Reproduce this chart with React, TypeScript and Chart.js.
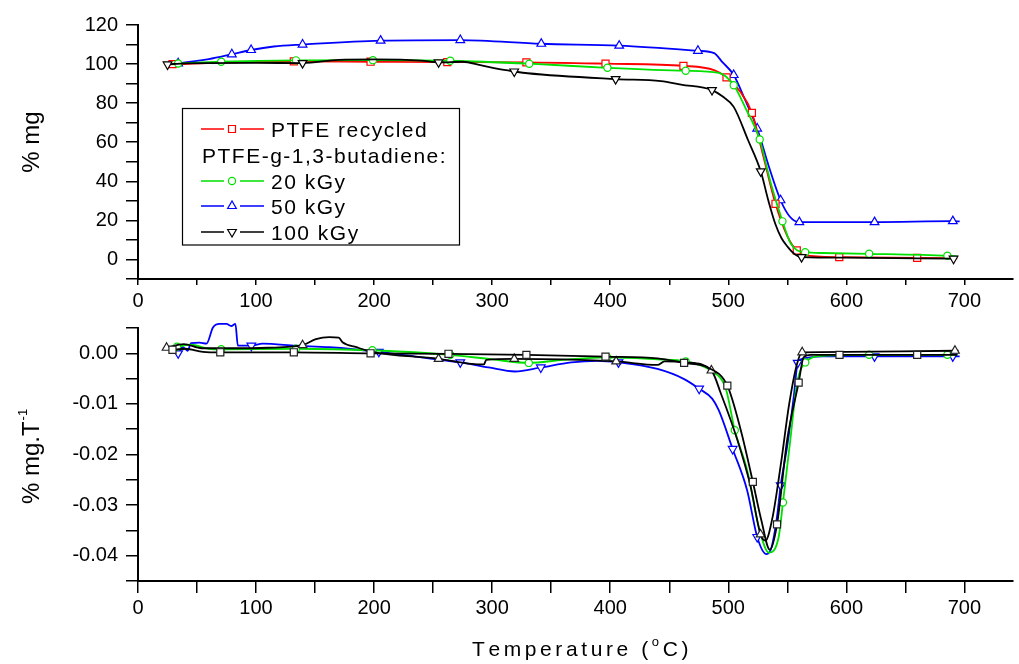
import React, { useEffect, useRef } from 'react';
import { Chart, registerables } from 'chart.js';

Chart.register(...registerables);

// ---------- TG (% mass) curves: [temperature °C, % mg] ----------
const tgRecycled: [number, number][] = [
  [27, 100.0], [29.2, 100.0], [70, 100.8], [132, 101.4], [197, 101.2], [262, 101.0],
  [329, 100.9], [396, 100.2], [462, 99.1], [488, 96.9], [498.5, 93.2], [510, 86.0],
  [520, 75.0], [530, 52.0], [540, 28.5], [550, 12.0], [558, 4.6], [565, 2.2],
  [594, 1.2], [660, 0.8], [694, 0.6],
];
const tgRecycledMarks = [29.2, 132, 197, 262, 329, 396, 462, 498.5, 520, 540, 558, 594, 660];

const tg20: [number, number][] = [
  [30, 100.2], [34, 100.3], [70.5, 101.2], [133.8, 101.9], [199, 102.0], [264.5, 101.7],
  [331.4, 100.2], [397.6, 98.1], [463.9, 96.6], [492, 95.5], [504.6, 89.2], [515, 77.0],
  [526.6, 61.4], [536, 39.0], [545.9, 19.5], [553, 8.0], [565.1, 3.7], [580, 3.3],
  [619.3, 2.9], [685.6, 1.9], [694, 1.6],
];
const tg20Marks = [34, 70.5, 133.8, 199, 264.5, 331.4, 397.6, 463.9, 504.6, 526.6, 545.9, 565.1, 619.3, 685.6];

const tg50: [number, number][] = [
  [30, 100.2], [34, 100.4], [60, 102.5], [79.5, 105.0], [95.8, 107.2], [115, 109.0],
  [139.4, 110.0], [205.5, 112.0], [273, 112.3], [341.6, 110.4], [407.6, 109.4],
  [474.3, 106.8], [488, 105.6], [495, 101.0], [504.6, 94.4], [514, 82.0], [524.5, 67.0],
  [534.5, 47.3], [544.3, 30.3], [552, 22.0], [560.2, 19.1], [623.9, 19.1], [690.2, 19.6],
  [696, 19.5],
];
const tg50Marks = [34, 79.5, 95.8, 139.4, 205.5, 273, 341.6, 407.6, 474.3, 504.6, 524.5, 544.3, 560.2, 623.9, 690.2];

const tg100: [number, number][] = [
  [25, 99.8], [40, 100.4], [100, 100.6], [139.4, 100.5], [170, 102.2], [200, 102.4],
  [240, 101.8], [254.6, 100.9], [275, 101.2], [290, 99.5], [305, 97.5], [318.7, 96.2],
  [330, 95.3], [404.6, 92.3], [443, 91.3], [460, 89.5], [486.2, 86.7], [495, 83.5],
  [504.6, 78.1], [516.8, 61.0], [527.5, 45.1], [534, 30.0], [539.8, 18.3], [545, 11.0],
  [550.5, 6.3], [556, 2.8], [562.1, 1.2], [600, 0.9], [690.8, 0.4],
];
const tg100Marks = [25, 139.4, 254.6, 318.7, 404.6, 486.2, 527.5, 562.1, 690.8];

// ---------- DTG curves: [temperature °C, % mg.T^-1] ----------
const dtgSquare: [number, number][] = [
  [27, 0.0008], [29.2, 0.0007], [40, 0.0009], [55, 0.0003], [69.7, 0.0002], [132, 0.0002],
  [197, 0.0], [263, -0.0001], [329, -0.0003], [396, -0.00065], [440, -0.001],
  [462.6, -0.0019], [482.6, -0.0028], [499.2, -0.0064], [510.6, -0.0152], [520.8, -0.0254],
  [528, -0.033], [535.2, -0.0388], [541.3, -0.0338], [549.8, -0.0172], [559.6, -0.0058],
  [563.8, -0.0008], [570, -0.0003], [594.2, -0.0003], [660, -0.0003], [694, -0.0003],
];
const dtgSquareMarks = [29.2, 69.7, 132, 197, 263, 329, 396, 462.6, 499.2, 520.8, 541.3, 559.6, 594.2, 660];

const dtgTriUp: [number, number][] = [
  [24.2, 0.0011], [38.8, 0.0018], [54, 0.001], [80, 0.001], [110, 0.0011], [139.4, 0.0016],
  [150.7, 0.0028], [162, 0.0032], [170, 0.0031], [173.2, 0.0022], [185, 0.0012],
  [198, 0.0003], [254.6, -0.0011], [282.7, -0.0021], [293, -0.0022], [295, -0.0013],
  [318.7, -0.0011], [360, -0.0012], [405, -0.0016], [440, -0.0023], [446, -0.0016],
  [465, -0.0018], [485.7, -0.0034], [493.8, -0.008], [507.8, -0.0172], [519, -0.0264],
  [527.3, -0.0358], [531.5, -0.037], [537.6, -0.0323], [544.6, -0.0218], [551.6, -0.01],
  [558.2, -0.0021], [562.6, 0.0002], [600, 0.0003], [692, 0.0005], [695, 0.0005],
];
const dtgTriUpMarks = [24.2, 139.4, 254.6, 318.7, 405, 485.7, 527.3, 562.6, 692];

const dtgCircle: [number, number][] = [
  [33, 0.0013], [45, 0.0017], [60, 0.0009], [70.5, 0.0008], [133.8, 0.0009], [198.5, 0.0006],
  [264.5, -0.0003], [300, -0.0012], [331, -0.0019], [360, -0.0013], [397.6, -0.0008],
  [440, -0.0012], [463.9, -0.0016], [485, -0.0034], [497.9, -0.007], [505.5, -0.0152],
  [516, -0.0231], [525.8, -0.0343], [534.3, -0.0394], [542.7, -0.0363], [546.3, -0.0295],
  [552.5, -0.0172], [558.2, -0.006], [565.2, -0.0018], [580, -0.0005], [619.3, -0.0003],
  [685.6, -0.0003], [694, -0.0003],
];
const dtgCircleMarks = [33, 70.5, 133.8, 198.5, 264.5, 331, 397.6, 463.9, 505.5, 546.3, 565.2, 619.3, 685.6];

const dtgTriDown: [number, number][] = [
  [34, 0.0], [38, 0.0012], [42, 0.0005], [45, 0.002], [52, 0.0021], [58, 0.0019],
  [63.5, 0.0051], [69, 0.0058], [75, 0.0058], [79, 0.0054], [82.5, 0.0058], [84.6, 0.0015],
  [96, 0.0015], [105.6, 0.0019], [133.8, 0.0015], [162, 0.0012], [204, 0.0003],
  [240, -0.0008], [273, -0.0018], [296.8, -0.0028], [319.3, -0.0036], [341.2, -0.0028],
  [367, -0.0018], [389.5, -0.0015], [407, -0.0018], [440, -0.0031], [462.6, -0.0051],
  [475.3, -0.007], [486.5, -0.009], [492, -0.0113], [503.7, -0.0189], [516, -0.0271],
  [524.5, -0.0363], [532.4, -0.0397], [536.7, -0.0383], [541.3, -0.0323], [544.4, -0.0261],
  [549.8, -0.0185], [555.4, -0.0087], [558.8, -0.0019], [562.6, -0.0011], [580, -0.0006],
  [623.9, -0.0006], [690.2, -0.0006], [696, -0.0006],
];
const dtgTriDownMarks = [34, 96, 204, 273, 341.2, 407, 475.3, 503.7, 524.5, 544.4, 558.8, 623.9, 690.2];

// ---------- labels ----------
const legendTitle = 'PTFE-g-1,3-butadiene:';
const legendLabels = ['PTFE recycled', '20 kGy', '50 kGy', '100 kGy'];
const topYTitle = '% mg';
const bottomYTitle = '% mg.T';
const bottomYTitleSup = '-1';
const xTitleA = 'Temperature (';
const xTitleSup = 'o';
const xTitleB = 'C)';

const FONT = "'Liberation Sans', Arial, Helvetica, sans-serif";
const RED = '#ff0000';
const GREEN = '#00e000';
const BLUE = '#0000ff';
const BLACK = '#000000';

type MStyle = 'rect' | 'circle' | 'triangle' | 'triangleDown';

function drawMarker(ctx: CanvasRenderingContext2D, style: MStyle, x: number, y: number, color: string) {
  ctx.save();
  ctx.beginPath();
  if (style === 'rect') {
    ctx.rect(x - 3.5, y - 3.5, 7, 7);
  } else if (style === 'circle') {
    ctx.arc(x, y, 3.6, 0, Math.PI * 2);
  } else {
    const r = 5;
    const s = style === 'triangle' ? 1 : -1;
    ctx.moveTo(x, y - s * r);
    ctx.lineTo(x - r * 0.866, y + s * r / 2);
    ctx.lineTo(x + r * 0.866, y + s * r / 2);
    ctx.closePath();
  }
  ctx.fillStyle = '#fff';
  ctx.fill();
  ctx.strokeStyle = color;
  ctx.lineWidth = 1.2;
  ctx.stroke();
  ctx.restore();
}

function spacedWidth(ctx: CanvasRenderingContext2D, text: string, sp: number) {
  let w = 0;
  for (const ch of text) w += ctx.measureText(ch).width + sp;
  return w;
}
function drawSpaced(ctx: CanvasRenderingContext2D, text: string, x: number, y: number, sp: number) {
  for (const ch of text) {
    ctx.fillText(ch, x, y);
    x += ctx.measureText(ch).width + sp;
  }
  return x;
}

function makeDataset(data: [number, number][], marks: number[], color: string, markColor: string, style: MStyle) {
  const radius = style === 'rect' ? 5 : style === 'circle' ? 3.6 : 5;
  return {
    data: data.map(([x, y]) => ({ x, y })),
    borderColor: color,
    borderWidth: 1.8,
    pointStyle: style === 'triangleDown' ? 'triangle' : style,
    pointRotation: style === 'triangleDown' ? 180 : 0,
    pointRadius: (c: any) => (c.raw && marks.includes(c.raw.x) ? radius : 0),
    pointHoverRadius: 0,
    pointBorderColor: markColor,
    pointBackgroundColor: '#ffffff',
    pointBorderWidth: 1.2,
    cubicInterpolationMode: 'monotone',
    fill: false,
    clip: false,
  };
}

function xScale(tickLen: number, pad: number, height: number) {
  return {
    type: 'linear',
    min: 0,
    max: 741,
    ticks: {
      stepSize: 50,
      includeBounds: false,
      autoSkip: false,
      maxRotation: 0,
      color: '#000',
      padding: pad,
      font: { family: FONT, size: 20 },
      callback: (v: number) => (Math.round(v) % 100 === 0 ? String(Math.round(v)) : ''),
    },
    grid: { drawOnChartArea: false, drawTicks: true, tickLength: tickLen, color: '#000', lineWidth: 1.5 },
    border: { display: true, color: '#000', width: 2 },
    afterFit: (s: any) => { s.height = height; },
  };
}

function yScale(min: number, max: number, step: number, cb: (v: number) => string) {
  return {
    type: 'linear',
    min,
    max,
    ticks: {
      stepSize: step,
      autoSkip: false,
      color: '#000',
      padding: 8,
      font: { family: FONT, size: 20 },
      callback: cb,
    },
    grid: { drawOnChartArea: false, drawTicks: true, tickLength: 12, color: '#000', lineWidth: 1.5 },
    border: { display: true, color: '#000', width: 2 },
    afterFit: (s: any) => { s.width = 138; },
  };
}

const topDecor = {
  id: 'topDecor',
  afterDraw(chart: any) {
    const ctx: CanvasRenderingContext2D = chart.ctx;
    ctx.save();
    // legend box
    ctx.strokeStyle = '#000';
    ctx.lineWidth = 1.2;
    ctx.strokeRect(182.5, 108.5, 277, 136.5);
    ctx.font = `21px ${FONT}`;
    ctx.fillStyle = '#000';
    ctx.textBaseline = 'alphabetic';
    const rows: { label: string; color?: string; style?: MStyle }[] = [
      { label: legendLabels[0], color: RED, style: 'rect' },
      { label: legendTitle },
      { label: legendLabels[1], color: GREEN, style: 'circle' },
      { label: legendLabels[2], color: BLUE, style: 'triangle' },
      { label: legendLabels[3], color: BLACK, style: 'triangleDown' },
    ];
    const rowY = [129, 155, 181, 206, 232];
    rows.forEach((r, i) => {
      const y = rowY[i];
      if (r.color && r.style) {
        ctx.strokeStyle = r.color;
        ctx.lineWidth = 1.6;
        ctx.beginPath();
        ctx.moveTo(201, y); ctx.lineTo(224, y);
        ctx.moveTo(240, y); ctx.lineTo(264, y);
        ctx.stroke();
        drawMarker(ctx, r.style, 232, y, r.color);
        ctx.fillStyle = '#000';
        drawSpaced(ctx, r.label, 271, y + 7.5, 1.5);
      } else {
        ctx.fillStyle = '#000';
        drawSpaced(ctx, r.label, 202, y + 7.5, 1.5);
      }
    });
    // y title
    ctx.translate(39, 142);
    ctx.rotate(-Math.PI / 2);
    ctx.font = `24px ${FONT}`;
    ctx.textAlign = 'center';
    ctx.fillText(topYTitle, 0, 0);
    ctx.restore();
  },
};

const bottomDecor = {
  id: 'bottomDecor',
  afterDraw(chart: any) {
    const ctx: CanvasRenderingContext2D = chart.ctx;
    ctx.save();
    ctx.fillStyle = '#000';
    ctx.textBaseline = 'alphabetic';
    // y title (rotated)
    ctx.save();
    ctx.translate(39, 457);
    ctx.rotate(-Math.PI / 2);
    ctx.font = `24px ${FONT}`;
    const w1 = ctx.measureText(bottomYTitle).width;
    ctx.font = `13px ${FONT}`;
    const w2 = ctx.measureText(bottomYTitleSup).width;
    const start = -(w1 + w2) / 2;
    ctx.font = `24px ${FONT}`;
    ctx.fillText(bottomYTitle, start, 0);
    ctx.font = `13px ${FONT}`;
    ctx.fillText(bottomYTitleSup, start + w1 + 1, -12);
    ctx.restore();
    // x title
    const sp = 3.6;
    ctx.font = `21px ${FONT}`;
    const a = spacedWidth(ctx, xTitleA, sp);
    const b = spacedWidth(ctx, xTitleB, sp);
    ctx.font = `13px ${FONT}`;
    const s = spacedWidth(ctx, xTitleSup, sp);
    let x = 582 - (a + s + b) / 2;
    const y = 656;
    ctx.font = `21px ${FONT}`;
    x = drawSpaced(ctx, xTitleA, x, y, sp);
    ctx.font = `13px ${FONT}`;
    x = drawSpaced(ctx, xTitleSup, x, y - 10, sp);
    ctx.font = `21px ${FONT}`;
    drawSpaced(ctx, xTitleB, x, y, sp);
    ctx.restore();
  },
};

export default function App() {
  const topRef = useRef<HTMLCanvasElement | null>(null);
  const botRef = useRef<HTMLCanvasElement | null>(null);

  useEffect(() => {
    if (!topRef.current || !botRef.current) return;
    const common = {
      responsive: false,
      animation: false,
      events: [],
      plugins: { legend: { display: false }, tooltip: { enabled: false }, title: { display: false } },
    };
    const top = new Chart(topRef.current, {
      type: 'line',
      data: {
        datasets: [
          makeDataset(tg100, tg100Marks, BLACK, BLACK, 'triangleDown'),
          makeDataset(tg20, tg20Marks, GREEN, GREEN, 'circle'),
          makeDataset(tgRecycled, tgRecycledMarks, RED, RED, 'rect'),
          makeDataset(tg50, tg50Marks, BLUE, BLUE, 'triangle'),
        ] as any,
      },
      options: {
        ...common,
        layout: { padding: { left: 0, right: 2, top: 25, bottom: 345 } },
        scales: {
          x: xScale(6, 4, 40),
          y: yScale(-10, 120, 10, (v: number) => (Math.round(v) % 20 === 0 ? String(Math.round(v)) : '')),
        },
      } as any,
      plugins: [topDecor],
    });
    const bottom = new Chart(botRef.current, {
      type: 'line',
      data: {
        datasets: [
          makeDataset(dtgSquare, dtgSquareMarks, BLACK, '#222', 'rect'),
          makeDataset(dtgTriUp, dtgTriUpMarks, BLACK, '#222', 'triangle'),
          makeDataset(dtgCircle, dtgCircleMarks, GREEN, GREEN, 'circle'),
          makeDataset(dtgTriDown, dtgTriDownMarks, BLUE, BLUE, 'triangleDown'),
        ] as any,
      },
      options: {
        ...common,
        layout: { padding: { left: 0, right: 2, top: 328, bottom: 0 } },
        scales: {
          x: xScale(12, 3, 83),
          y: yScale(-0.045, 0.005, 0.005, (v: number) => {
            const k = Math.round(v * 1000);
            if (k % 10 !== 0) return '';
            return k === 0 ? '0.00' : (k / 1000).toFixed(2);
          }),
        },
      } as any,
      plugins: [bottomDecor],
    });
    return () => {
      top.destroy();
      bottom.destroy();
    };
  }, []);

  const cs: React.CSSProperties = { position: 'absolute', left: 0, top: 0, width: 1019, height: 664 };
  return (
    <div style={{ position: 'fixed', left: 0, top: 0, width: 1019, height: 664, background: '#fff', overflow: 'hidden' }}>
      <canvas ref={topRef} width={1019} height={664} style={cs} />
      <canvas ref={botRef} width={1019} height={664} style={cs} />
    </div>
  );
}
